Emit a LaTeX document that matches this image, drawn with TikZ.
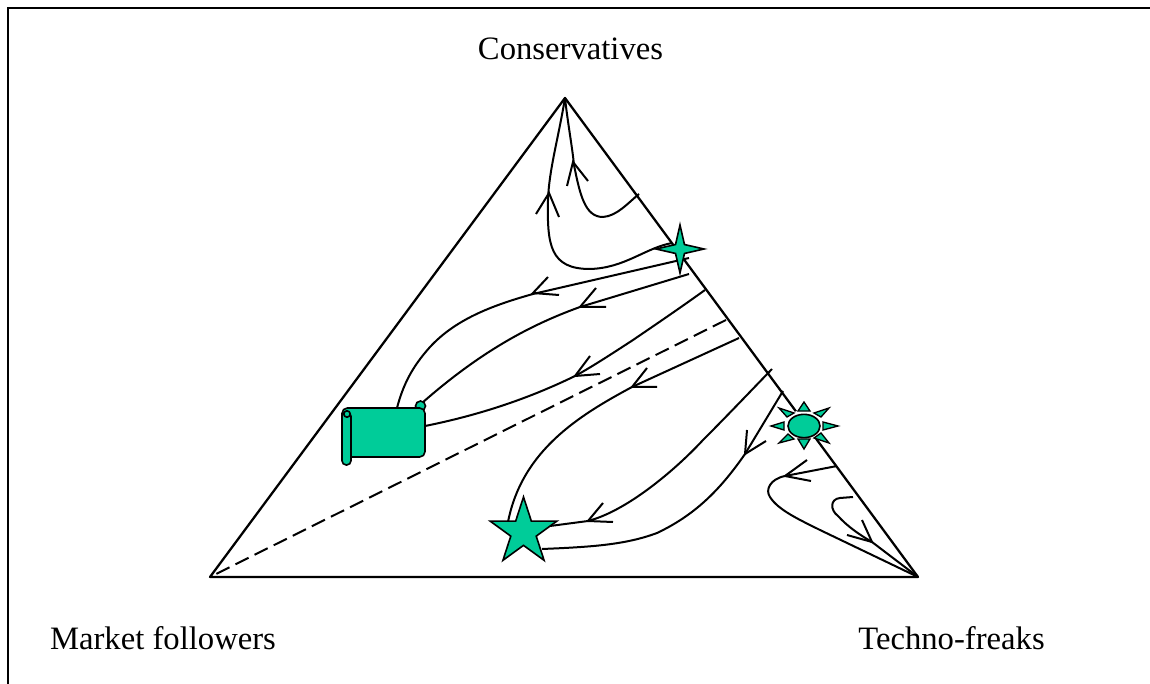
\documentclass[tikz,border=0pt]{standalone}
\usepackage{fontspec}
\setmainfont{Liberation Serif}
\usetikzlibrary{shapes.geometric}
\definecolor{fillgreen}{RGB}{0, 204, 153}
\tikzset{
    flow/.style={line width=1.5pt, line join=round},
    barb/.style={line width=1.5pt, line join=miter},
    figure/.style={draw=black, fill=fillgreen, line width=1.2pt},
    ray/.style={draw=black, fill=fillgreen, line width=1pt},
    corner/.style={anchor=base, font=\fontsize{24.5}{28}\selectfont}
}

\begin{document}
\begin{tikzpicture}[x=0.75pt, y=-0.75pt]
    \useasboundingbox (0,0) rectangle (1150,684);

    % frame
    \draw[line width=1.3pt] (8,684) -- (8,8) -- (1150,8);

    % triangle
    \coordinate (top) at (565,98);
    \coordinate (left) at (210,577);
    \coordinate (right) at (918,577);
    \draw[line width=1.7pt, line join=round] (top) -- (left) -- (right) -- cycle;
    \draw[flow, dash pattern=on 11pt off 5pt] (726,320) -- (left);

    \node[corner] (cons) at (570.5,60) {Conservatives};
    \node[corner] (follow) at (163,649) {Market followers};
    \node[corner] (freak) at (951.5,649) {Techno-freaks};

    % upper two
    \draw[flow] (top) .. controls (558,140) and (549,170) .. (548,200) .. controls (547,245) and (550,269) .. (590,269) .. controls (625,268) and (645,248) .. (672,243);
    \draw[barb] (536,214) -- (549,193) -- (559,217);
    \draw[flow] (top) .. controls (568,125) and (572,145) .. (574,165) .. controls (580,195) and (585,217) .. (603,217) .. controls (617,216) and (628,203) .. (639,194);
    \draw[barb] (567,186) -- (573,162) -- (588,181);

    % into the scroll
    \draw[flow] (689,258) -- (533,294) .. controls (490,306) and (455,320) .. (430,347) .. controls (412,367) and (403,385) .. (397,408);
    \draw[barb] (548,277) -- (533,293) -- (559,295);
    \draw[flow] (689,274) -- (580,307) .. controls (530,325) and (480,352) .. (422,403);
    \draw[barb] (596,288) -- (580,307) -- (606,307);
    \draw[flow] (705,290) .. controls (680,308) and (655,325) .. (633,340) .. controls (610,355) and (590,368) .. (575,376) .. controls (530,398) and (480,415) .. (425,426);
    \draw[barb] (590,356) -- (575,376) -- (600,374);

    % into the big star
    \draw[flow] (739,338) -- (632,387) .. controls (580,415) and (522,450) .. (508,522);
    \draw[barb] (647,368) -- (632,387) -- (657,387);
    \draw[flow] (772,369) .. controls (745,397) and (725,418) .. (703,440) .. controls (680,465) and (630,510) .. (588,521) -- (550,526);
    \draw[barb] (603,503) -- (588,521) -- (613,522);
    \draw[flow] (783,391) -- (745,454) .. controls (720,490) and (695,515) .. (657,533) .. controls (625,545) and (590,547) .. (542,549);
    \draw[barb] (747,430) -- (745,454) -- (766,441);

    % bottom right
    \draw[flow] (837,466) -- (785,476) .. controls (770,479) and (765,490) .. (770,497) .. controls (778,510) and (800,520) .. (820,530) -- (right);
    \draw[barb] (807,460) -- (785,476) -- (811,481);
    \draw[flow] (853,497) -- (840,498) .. controls (830,499) and (830,510) .. (838,516) .. controls (848,527) and (860,535) .. (872,542) -- (right);
    \draw[barb] (847,535) -- (872,542) -- (862,520);

    % four point star
    \node[figure, star, star points=4, star point ratio=3.8, inner sep=0pt, minimum size=36pt] (fourstar) at (680,249) {};

    % big star
    \node[figure, star, star points=5, star point ratio=2.618, inner sep=0pt, minimum size=52.5pt] (bigstar) at (523.5,532) {};

    % sun
    \fill[white] (804,426) ellipse (20 and 16);
    \draw[ray] (804,402) -- (798,411) -- (810,411) -- cycle;
    \draw[ray] (804,449) -- (798,439) -- (810,439) -- cycle;
    \draw[ray] (771,426) -- (784,422) -- (784,430) -- cycle;
    \draw[ray] (838,426) -- (823,422) -- (823,430) -- cycle;
    \draw[ray] (829,408) -- (814,413) -- (821,417) -- cycle;
    \draw[ray] (779,408) -- (794,413) -- (787,417) -- cycle;
    \draw[ray] (779,443) -- (788,434) -- (794,439) -- cycle;
    \draw[ray] (829,443) -- (814,438) -- (821,433) -- cycle;
    \node[figure, ellipse, inner sep=0pt, minimum width=24pt, minimum height=17.5pt] (sun) at (804,426) {};

    % scroll
    \draw[figure] (420.5,406) circle (5);
    \draw[figure, rounded corners=4pt] (342,418) -- (342,408) -- (425,408) -- (425,457) -- (351,457);
    \fill[fillgreen] (346,412) rectangle (422,454);
    \draw[figure, rounded corners=3.2pt] (342,412) rectangle (351,465);
    \draw[figure] (347,414) circle (3.2);
\end{tikzpicture}
\end{document}
